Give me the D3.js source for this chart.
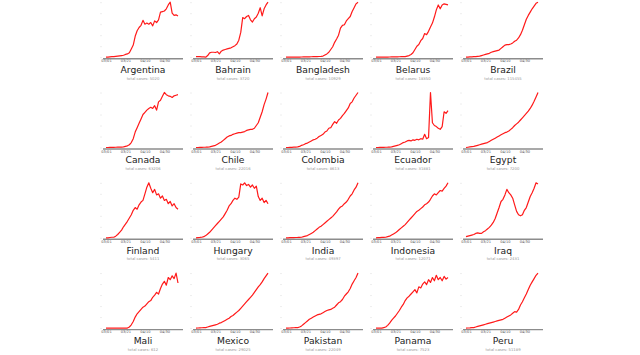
<!DOCTYPE html>
<html><head><meta charset="utf-8">
<script src="https://cdn.jsdelivr.net/npm/d3@7"></script>
<style>
html,body{margin:0;padding:0;background:#fff;}
svg{display:block;font-family:"DejaVu Sans",sans-serif;}
</style></head>
<body>
<svg id="chart" width="640" height="355"></svg>
<script>
// Countries (panel order) and their total cases
const countries = ["Argentina","Bahrain","Bangladesh","Belarus","Brazil",
  "Canada","Chile","Colombia","Ecuador","Egypt",
  "Finland","Hungary","India","Indonesia","Iraq",
  "Mali","Mexico","Pakistan","Panama","Peru"];
const totalCases = [5020,3720,10929,18350,115455,
  63206,22016,8613,31881,7200,
  5411,3065,49397,12071,2431,
  612,29025,22049,7523,51189];

// Sample dates: every 2 days from 2020-03-01 (38 points)
const startDate = "2020-03-01";
const stepDays = 2;
// Tick labels on each x axis
const tickLabels = ["03/01","03/21","04/10","04/30"];

// Daily new cases, scaled to % of each country's peak
const argentina = [0,0,0.5,1,1,1.5,2,2.5,3,3.5,5,6,8,15,22,38,48,54,58,67,60,62,60,63,57,66,63,68,82,83,84,88,95,100,80,76,77,75];
const bahrain = [1,1,1,0.5,0.5,0,3,8,9,9,8.5,10,6,11,13,14,15,16,17,19,21,24,31,45,72,70,74,76,68,64,70,73,80,90,75,88,95,100];
const bangladesh = [0,0,0,0,0.2,0.2,0.3,0.3,0.4,0.5,0.5,0.6,0.7,0.8,0.9,1,1.2,1.3,1.5,2,4,6,9,14,19,27,33,40,53,58,59,66,70,74,83,90,97,100];
const belarus = [0,0,0,0,0.2,0.2,0.3,0.4,0.5,0.5,0.6,0.7,0.8,0.9,1,1,2,3,5,8,14,20,23,30,34,43,41,47,55,62,73,86,95,88,95,97,96,95];
const brazil = [0,0,0.5,0.5,1,1,1.5,2,3,4,5,6,7,9,10,11,12,13,16,19,22,23,23,24,26,29,31,35,41,49,59,69,76,82,88,93,98,100];
const canada = [0,0,0.2,0.3,0.4,0.5,0.6,0.7,0.8,1,2,3,5,9,16,28,36,44,52,60,64,68,71,73,71,76,68,83,86,93,100,96,94,93,91,94,95,96];
const chile = [0,0,0.2,0.3,0.5,0.6,0.8,1,2,3,4,6,8,10,13,16,19,21,22,24,25,26,27,27,28,29,31,32,33,33,35,40,45,55,65,78,88,100];
const colombia = [0,0,0.2,0.4,0.6,0.8,1,2,4,5,7,8,10,12,14,15,17,20,22,24,28,30,35,36,42,47,44,50,53,58,62,67,72,80,83,90,95,100];
const ecuador = [0,0,0.2,0.3,0.4,0.5,0.6,0.8,1,2,3,4,5,7,9,10,12,13,12,14,13,15,14,16,15,24,16,18,100,45,40,38,35,33,38,65,62,67];
const egypt = [0,0.5,1,1.5,2,3,4,5,6,7,8,9,11,13,15,17,19,21,23,25,27,28,30,33,36,40,43,46,50,54,58,62,66,71,77,84,92,100];
const finland = [0,0,0.5,1,1,3,6,10,14,20,25,30,36,42,50,55,52,60,65,68,80,92,100,90,82,88,78,80,72,76,68,70,62,66,58,62,55,52];
const hungary = [0,0.3,0.6,1,2,4,7,10,14,18,22,26,30,34,38,44,50,58,62,68,72,70,74,98,96,100,95,97,92,96,90,94,75,68,72,64,68,62];
const india = [0,0,0.2,0.3,0.4,0.5,0.6,0.8,1,2,3,4,6,8,10,13,16,19,21,24,27,30,33,36,39,43,47,52,56,58,62,65,70,76,80,87,92,100];
const indonesia = [0,0.2,0.4,0.6,0.8,1,2,3,5,7,9,12,15,18,21,24,28,32,36,40,44,48,50,53,56,60,62,65,70,76,80,78,82,86,85,90,94,100];
const iraq = [2,3,4,5,6,8,9,8,8,11,13,16,19,23,28,35,45,55,66,70,78,88,82,78,72,60,48,42,40,42,50,55,65,75,82,90,100,98];
const mali = [0,0,0,0,0,0,0,0,0,0,0,0,2,6,12,20,26,30,34,38,40,44,48,50,56,60,65,62,72,80,85,78,92,88,95,90,100,82];
const mexico = [0,0.2,0.4,0.6,0.8,1,2,3,4,5,6,7,9,10,12,14,16,18,21,23,26,29,32,36,40,44,48,52,56,60,65,70,75,79,84,90,95,100];
const pakistan = [0,0,0.2,0.4,0.6,0.8,1,2,4,7,10,13,16,18,20,22,24,25,26,28,30,32,33,34,36,38,42,46,48,52,58,62,66,72,80,86,92,100];
const panama = [0,0,0,0,1,2,5,9,14,18,22,27,32,38,43,50,55,58,62,66,70,64,75,73,80,84,79,88,83,92,86,96,88,92,86,94,89,92];
const peru = [0,0.2,0.4,0.7,1,2,3,4,5,6,7,8,9,10,11,12,13,14,15,16,18,20,22,24,27,30,29,34,42,48,55,62,70,78,84,90,96,100];

const seriesList = [argentina,bahrain,bangladesh,belarus,brazil,
  canada,chile,colombia,ecuador,egypt,
  finland,hungary,india,indonesia,iraq,
  mali,mexico,pakistan,panama,peru];

const parse = d3.timeParse("%Y-%m-%d");
const fmt = d3.timeFormat("%m/%d");
const t0 = parse(startDate);
const dates = d3.range(38).map(i => d3.timeDay.offset(t0, i * stepDays));
const tickDates = tickLabels.map(l => d3.timeParse("%Y-%m/%d")("2020-" + l));

const svg = d3.select("#chart");
const colPitch = 90, rowPitch = 90.3;
const axisW = 80;

countries.forEach((name, k) => {
  const c = k % 5, r = Math.floor(k / 5);
  const x0 = 103 + colPitch * c;
  const axisY = 58.7 + rowPitch * r;
  const vals = seriesList[k];

  const x = d3.scaleTime().domain([dates[0], dates[dates.length - 1]]).range([x0 + 3, x0 + 75]);
  const y = d3.scaleLinear().domain([0, 100]).range([axisY - 1.5, axisY - 56.5]);

  const g = svg.append("g");

  // faint y ticks
  const yAxis = d3.axisLeft(y).ticks(5).tickSize(2).tickFormat("");
  const gy = g.append("g").attr("transform", `translate(${x0 - 1},0)`).call(yAxis);
  gy.select(".domain").remove();
  gy.selectAll(".tick line").attr("stroke", "#eeeeee");

  // x axis
  const xAxis = d3.axisBottom(x).tickValues(tickDates).tickSize(0).tickPadding(1.2).tickFormat(fmt);
  const gx = g.append("g").attr("transform", `translate(0,${axisY})`).call(xAxis);
  gx.select(".domain").remove();
  gx.selectAll(".tick text").attr("font-size", 3.6).attr("fill", "#555").attr("font-family", "DejaVu Sans");
  g.append("line").attr("x1", x0).attr("x2", x0 + axisW).attr("y1", axisY).attr("y2", axisY)
    .attr("stroke", "#8c8c8c").attr("stroke-width", 1.4);

  // line
  const line = d3.line().x((d, i) => x(dates[i])).y(d => y(d));
  g.append("path").datum(vals).attr("d", line).attr("fill", "none")
    .attr("stroke", "#ff1a1a").attr("stroke-width", 1.2).attr("stroke-linejoin", "round");

  // title
  g.append("text").attr("x", x0 + 40).attr("y", axisY + 14.3).attr("text-anchor", "middle")
    .attr("font-size", 9.2).attr("fill", "#222").text(name);
  g.append("text").attr("x", x0 + 40).attr("y", axisY + 21).attr("text-anchor", "middle")
    .attr("font-size", 3.8).attr("fill", "#999").text("total cases: " + totalCases[k]);
});
</script>
</body></html>
